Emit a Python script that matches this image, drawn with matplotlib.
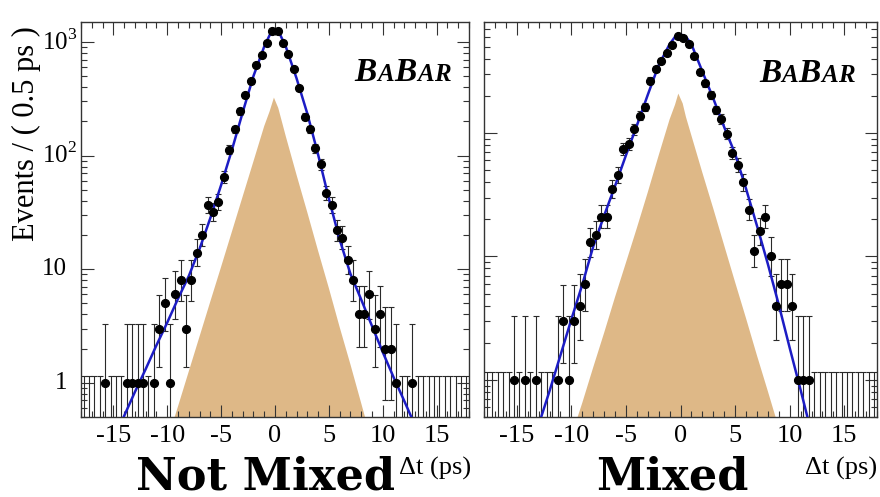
import numpy as np
import matplotlib
matplotlib.use("Agg")
import matplotlib.pyplot as plt
from matplotlib.ticker import FixedLocator, MultipleLocator, LogLocator, NullFormatter
from matplotlib.transforms import blended_transform_factory, offset_copy

plt.rcParams['font.family'] = ['Liberation Serif', 'DejaVu Serif']
plt.rcParams['mathtext.fontset'] = 'custom'
plt.rcParams['mathtext.rm'] = 'Liberation Serif'
plt.rcParams['axes.unicode_minus'] = False

# 0.5 ps bins of Delta t
dt_bins = np.arange(-17.75, 18.0, 0.5)

# Event counts per bin
counts_not_mixed = [
    0, 0, 0, 0, 1, 0, 0, 0, 1, 1, 1, 1, 0, 1, 3, 5, 1, 6, 8, 3, 8,
    14, 20, 37, 32, 39, 65, 113, 170, 245, 340, 452, 624, 775, 985, 1240,
    1240, 985, 780, 583, 390, 220, 170, 116, 84, 47, 37, 22, 19, 12, 8,
    4, 4, 6, 3, 4, 2, 2, 1, 0, 0, 1, 0, 0, 0, 0, 0, 0, 0, 0, 0, 0,
]
counts_mixed = [
    0, 0, 0, 0, 0, 1, 0, 1, 0, 1, 0, 0, 0, 1, 3, 1, 3, 4, 6, 13, 15,
    21, 21, 35, 46, 74, 82, 107, 138, 162, 266, 330, 387, 445, 519, 607,
    588, 525, 422, 315, 254, 204, 154, 130, 99, 69, 55, 40, 24, 11, 16,
    21, 10, 4, 6, 6, 4, 1, 1, 1, 0, 0, 0, 0, 0, 0, 0, 0, 0, 0, 0, 0,
]

# Fitted PDF (total)
fit_t_not_mixed = [-15, -14, -13, -12, -11, -10, -9, -8, -7, -6, -5, -4, -3, -2, -1, -0.5,
                   0, 0.5, 1, 2, 3, 4, 5, 6, 7, 8, 9, 10, 11, 12, 13]
fit_not_mixed = [0.32, 0.51, 0.83, 1.32, 2.14, 3.39, 5.5, 8.7, 15.1, 28.2, 55, 112, 240, 501, 912, 1148,
                 1288, 1148, 912, 479, 234, 102, 41.7, 18.2, 9.1, 5.4, 3.16, 1.86, 1.12, 0.69, 0.42]
fit_t_mixed = [-14, -13, -12, -11, -10, -9, -8, -7, -6, -5, -4, -3, -2, -1, -0.5,
               0, 0.5, 1, 2, 3, 4, 5, 6, 7, 8, 9, 10, 11, 12]
fit_mixed = [0.22, 0.43, 0.81, 1.58, 3.09, 5.9, 12.0, 21.4, 37.2, 66, 115, 204, 355, 525, 603,
             631, 603, 525, 316, 191, 112, 68, 35.5, 17.8, 8.7, 4.07, 1.82, 0.83, 0.37]

# Background component (filled)
bkg_t_not_mixed = [-10, -9, -8, -7, -6, -5, -4, -3, -2, -1, -0.5,
                   -0.1, 0.3, 1, 2, 3, 4, 5, 6, 7, 8, 9]
bkg_not_mixed = [0.31, 0.62, 1.26, 2.56, 5.2, 10.5, 21.4, 43.7, 89, 182, 245,
                 324, 263, 148, 67.6, 31.6, 14.5, 6.8, 3.09, 1.45, 0.66, 0.30]
bkg_t_mixed = [-10, -9, -8, -7, -6, -5, -4, -3, -2, -1, -0.5,
               -0.2, 0.2, 0.5, 1, 2, 3, 4, 5, 6, 7, 8, 9]
bkg_mixed = [0.35, 0.65, 1.26, 2.40, 4.68, 8.9, 17.0, 33.1, 66, 129, 170,
             209, 174, 135, 95.5, 47.9, 24.5, 12.3, 6.2, 3.16, 1.58, 0.81, 0.41]

# y-axis decade labels
y_ticks = [1, 10, 100, 1000]
y_tick_labels = ['1', '10', r'$10^{2}$', r'$10^{3}$']

# Frequentist 68% Poisson intervals for small counts
POISSON_LO = [0.0, 0.173, 0.708, 1.367, 2.086, 2.840, 3.620, 4.419, 5.232, 6.057, 6.891]
POISSON_HI = [1.148, 3.300, 4.638, 5.918, 7.163, 8.382, 9.584, 10.77, 11.95, 13.11, 14.27]


def poisson_interval(n):
    lo, hi = [], []
    for k in n:
        if k < len(POISSON_LO):
            lo.append(POISSON_LO[k])
            hi.append(POISSON_HI[k])
        else:
            s = np.sqrt(k + 0.25)
            lo.append(k - s + 0.5)
            hi.append(k + s + 0.5)
    return np.array(lo), np.array(hi)


def babar_logo(ax, x, y):
    fig = ax.figure
    renderer = fig.canvas.get_renderer()
    parts = [('B', 24), ('A', 18), ('B', 24), ('A', 18), ('R', 18)]
    xoff = 0.0
    for s, size in parts:
        tr = offset_copy(ax.transAxes, fig=fig, x=xoff, y=0, units='points')
        t = ax.text(x, y, s, transform=tr, ha='left', va='baseline', fontsize=size,
                    fontweight='bold', fontstyle='italic', family='Liberation Serif',
                    color='black')
        bb = t.get_window_extent(renderer)
        xoff += bb.width * 72.0 / fig.dpi + 0.3


def draw_panel(ax, counts, fit_t, fit_v, bkg_t, bkg_v, ylim, show_ylabels):
    ax.set_yscale('log')
    ax.set_xlim(-18, 18)
    ax.set_ylim(*ylim)

    ax.fill_between(bkg_t, 1e-3, bkg_v, color='#DEB887', lw=0, zorder=1)

    n = np.asarray(counts)
    lo, hi = poisson_interval(n)
    lo = np.maximum(lo, 1e-3)
    mid = np.where(n > 0, n, hi).astype(float)
    ax.errorbar(dt_bins, mid, yerr=[mid - lo, hi - mid], fmt='none',
                ecolor='#2a2a2a', elinewidth=0.8, capsize=2.2, capthick=0.8, zorder=2)

    ax.plot(fit_t, fit_v, color='#1c1cc4', lw=1.8, zorder=3)

    nz = n > 0
    ax.plot(dt_bins[nz], n[nz], 'o', color='black', ms=5.6, zorder=4)

    ax.xaxis.set_major_locator(FixedLocator([-15, -10, -5, 0, 5, 10, 15]))
    ax.xaxis.set_minor_locator(MultipleLocator(1))
    ax.yaxis.set_major_locator(FixedLocator(y_ticks))
    ax.yaxis.set_minor_locator(LogLocator(base=10, subs=np.arange(2, 10), numticks=20))
    ax.yaxis.set_major_formatter(NullFormatter())
    ax.yaxis.set_minor_formatter(NullFormatter())
    ax.tick_params(which='both', direction='in', top=True, right=True,
                   color='#333333', width=0.8)
    ax.tick_params(which='major', length=9)
    ax.tick_params(which='minor', length=4.5)
    ax.tick_params(axis='x', labelsize=19, pad=6)
    for sp in ax.spines.values():
        sp.set_color('#333333')
        sp.set_linewidth(1.0)

    if show_ylabels:
        trans = blended_transform_factory(ax.figure.transFigure, ax.transData)
        W = ax.figure.bbox.width
        for v, lab in zip(y_ticks, y_tick_labels):
            x_right = 67 if '^' not in lab else 77
            ax.text(x_right / W, v, lab, transform=trans, ha='right', va='center',
                    fontsize=18, clip_on=False)


fig = plt.figure(figsize=(8.8, 4.97), dpi=100)
W, H = 880, 497
ax1 = fig.add_axes([81 / W, 80 / H, 388 / W, 395 / H])
ax2 = fig.add_axes([484 / W, 80 / H, 393 / W, 395 / H])

draw_panel(ax1, counts_not_mixed, fit_t_not_mixed, fit_not_mixed,
           bkg_t_not_mixed, bkg_not_mixed, (0.5, 1500), True)
draw_panel(ax2, counts_mixed, fit_t_mixed, fit_mixed,
           bkg_t_mixed, bkg_mixed, (0.5, 795), False)

babar_logo(ax1, 0.705, 0.85)
babar_logo(ax2, 0.70, 0.847)

fig.text(26 / W, (H - 241) / H, 'Events / ( 0.5 ps )', rotation=90,
         rotation_mode='anchor', ha='left', va='center', fontsize=22)

fig.text(471 / W, 22 / H, '\u0394t (ps)', ha='right', va='baseline', fontsize=19)
fig.text(877 / W, 22 / H, '\u0394t (ps)', ha='right', va='baseline', fontsize=19)

fig.text(266 / W, 8 / H, 'Not Mixed', ha='center', va='baseline',
         fontsize=32, fontweight='bold', family='DejaVu Serif')
fig.text(672 / W, 8 / H, 'Mixed', ha='center', va='baseline',
         fontsize=32, fontweight='bold', family='DejaVu Serif')

fig.savefig('out.png', dpi=100)
